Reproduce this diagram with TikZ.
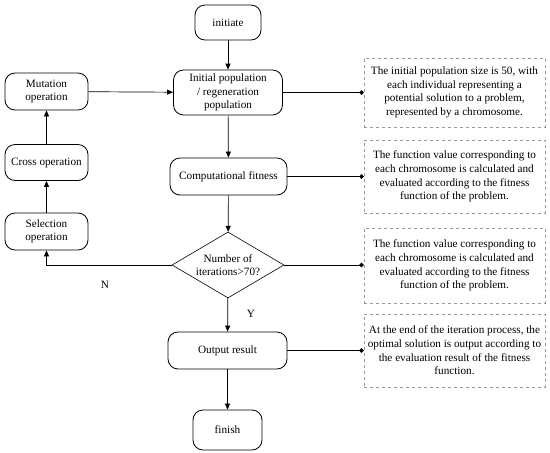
\documentclass[tikz,border=0pt]{standalone}
\usepackage{fontspec}
\setmainfont{Liberation Serif}
\usetikzlibrary{shapes.geometric,arrows.meta}
\begin{document}
\begin{tikzpicture}[x=1pt,y=-1pt,
  font=\fontsize{11.2}{13.6}\selectfont,
  proc/.style={draw,rounded corners=10pt,line width=0.8pt,align=center,inner sep=0pt},
  note/.style={draw=gray!80,dashed,line width=0.7pt,align=center,inner sep=0pt,minimum width=181pt},
  dec/.style={draw,diamond,line width=0.6pt,align=center,inner sep=0pt,minimum width=112pt,minimum height=66pt,aspect=1.7},
  arr/.style={line width=0.7pt,-{Triangle[length=6pt,width=5pt]}},
  lnk/.style={line width=0.7pt,-{Circle[length=4.5pt]}}]
\useasboundingbox (0,0) rectangle (550,453);
\node[proc,minimum width=66pt,minimum height=35pt] (init) at (228,22.5) {initiate};
\node[proc,minimum width=109pt,minimum height=45pt] (pop) at (228,92.5) {Initial population\\/ regeneration\\population};
\node[proc,minimum width=83pt,minimum height=37pt] (mut) at (46.5,91.5) {Mutation\\operation};
\node[proc,minimum width=83pt,minimum height=36pt] (cross) at (46.5,162.5) {Cross operation};
\node[proc,minimum width=117pt,minimum height=37pt] (fit) at (228.5,176.5) {Computational fitness};
\node[proc,minimum width=83pt,minimum height=37pt] (sel) at (46.5,231.5) {Selection\\operation};
\node[dec] (dia) at (228,265) {Number of\\iterations>70?};
\node[proc,minimum width=119pt,minimum height=37pt] (out) at (227.5,350.5) {Output result};
\node[proc,minimum width=69pt,minimum height=40pt] (fin) at (227.5,430) {finish};
\node[note,minimum height=69pt] (n1) at (454.5,92.5) {The initial population size is 50, with\\each individual representing a\\potential solution to a problem,\\represented by a chromosome.};
\node[note,minimum height=73pt] (n2) at (454.5,176.5) {The function value corresponding to\\each chromosome is calculated and\\evaluated according to the fitness\\function of the problem.};
\node[note,minimum height=75pt] (n3) at (454.5,265.5) {The function value corresponding to\\each chromosome is calculated and\\evaluated according to the fitness\\function of the problem.};
\node[note,minimum height=73pt] (n4) at (454.5,350.5) {At the end of the iteration process, the\\optimal solution is output according to\\the evaluation result of the fitness\\function.};
\coordinate (corner) at (sel.south |- dia.west);
\node (nlab) at (105,285) {N};
\node (ylab) at (251,314) {Y};
\draw[arr] (init) -- (pop);
\draw[arr] (mut) -- (pop);
\draw[arr] (cross) -- (mut);
\draw[arr] (sel) -- (cross);
\draw[arr] (pop) -- (fit);
\draw[arr] (fit) -- (dia);
\draw[arr] (dia.west) -- (corner) -- (sel.south);
\draw[arr] (dia) -- (out);
\draw[arr] (out) -- (fin);
\draw[lnk] (pop.east) -- (pop.east -| n1.west);
\draw[lnk] (fit.east) -- (fit.east -| n2.west);
\draw[lnk] (dia.east) -- (dia.east -| n3.west);
\draw[lnk] (out.east) -- (out.east -| n4.west);
\end{tikzpicture}
\end{document}
